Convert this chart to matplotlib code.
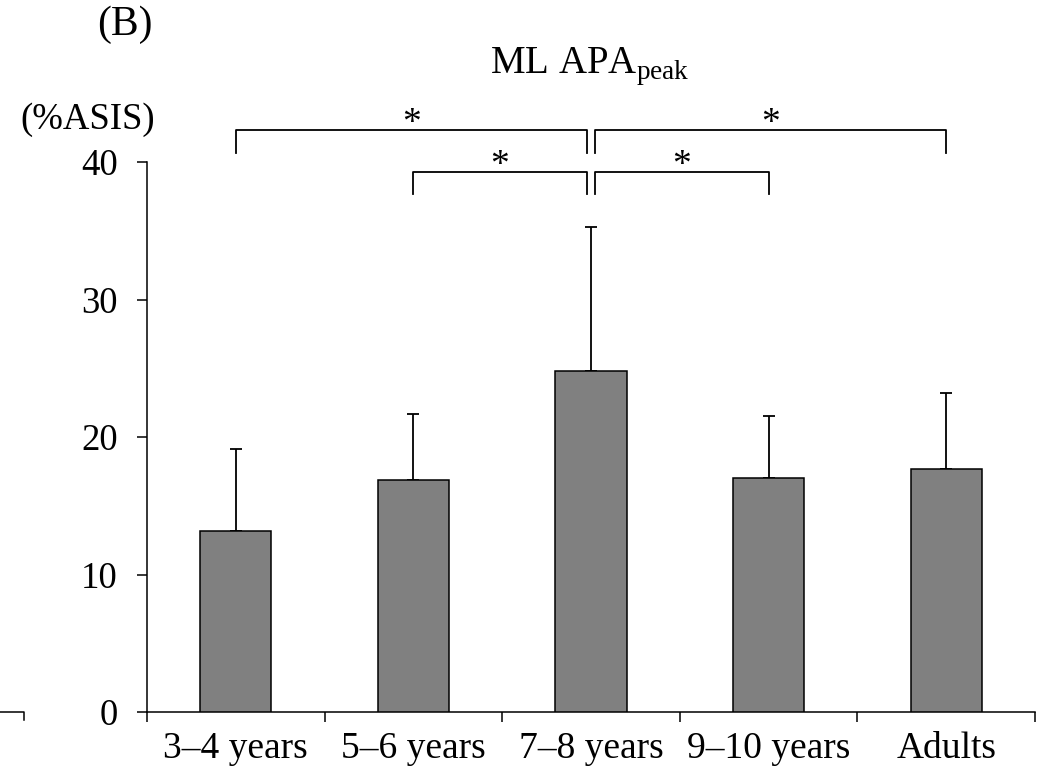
import numpy as np
import matplotlib
matplotlib.use("Agg")
import matplotlib.pyplot as plt
from matplotlib.lines import Line2D

plt.rcParams['font.family'] = ['Liberation Serif', 'DejaVu Serif']
plt.rcParams['mathtext.fontset'] = 'custom'
plt.rcParams['mathtext.rm'] = 'Liberation Serif'

groups = ["3–4 years", "5–6 years", "7–8 years", "9–10 years", "Adults"]
means = [13.2, 16.9, 24.8, 17.0, 17.7]
sds = [5.9, 4.8, 10.5, 4.5, 5.5]

# significance pairs (group index a, group index b, level)
sig_pairs = [(0, 2, 42.3), (2, 4, 42.3), (1, 2, 39.3), (2, 3, 39.3)]

fig = plt.figure(figsize=(10.51, 7.72), dpi=100)
ax = fig.add_axes([147 / 1051, 60 / 772, 888 / 1051, 550 / 772])

x = np.arange(len(groups)) + 0.5
ax.bar(x, means, width=0.4, color='#808080', edgecolor='black', linewidth=1.1, zorder=3)
ax.errorbar(x, means, yerr=[np.zeros(len(sds)), sds], fmt='none', ecolor='black',
            elinewidth=1.3, capsize=4.3, capthick=1.3, zorder=2)

ax.set_xlim(0, 5)
ax.set_ylim(0, 40)
ax.set_yticks([0, 10, 20, 30, 40])
ax.set_xticks(np.arange(0, 6))
ax.set_xticklabels([])
ax.set_xticks(x, minor=True)
ax.set_xticklabels(groups, minor=True)
ax.tick_params(axis='x', which='major', direction='out', length=7, width=1.1)
ax.tick_params(axis='x', which='minor', length=0, pad=14, labelsize=27)
ax.tick_params(axis='y', direction='out', length=7, width=1.1, labelsize=26.5, pad=14)
for s in ['top', 'right']:
    ax.spines[s].set_visible(False)
for s in ['left', 'bottom']:
    ax.spines[s].set_linewidth(1.1)

# brackets
gap = 0.025
for a, b, lev in sig_pairs:
    xa, xb = x[a], x[b]
    if a == 2:
        xa += gap
    if b == 2:
        xb -= gap
    ax.plot([xa, xa, xb, xb], [lev - 1.65, lev, lev, lev - 1.65], color='black',
            lw=1.3, clip_on=False)
    ax.text((xa + xb) / 2, lev - 0.8, '*', ha='center', va='bottom', fontsize=27,
            clip_on=False)

fig.text(590 / 1051, 1 - 73 / 772, r'ML APA$_{\mathrm{peak}}$', ha='center',
         va='baseline', fontsize=28)
fig.text(125 / 1051, 1 - 25 / 772, '(B)', ha='center', va='center', fontsize=30)
fig.text(88 / 1051, 1 - 120 / 772, '(%ASIS)', ha='center', va='center', fontsize=26.5)

# piece of the neighbouring panel's axis
fig.add_artist(Line2D([0, 24 / 1051, 24 / 1051], [60 / 772, 60 / 772, 52 / 772],
                      color='black', lw=1.1))

fig.savefig('out.png', dpi=100)
